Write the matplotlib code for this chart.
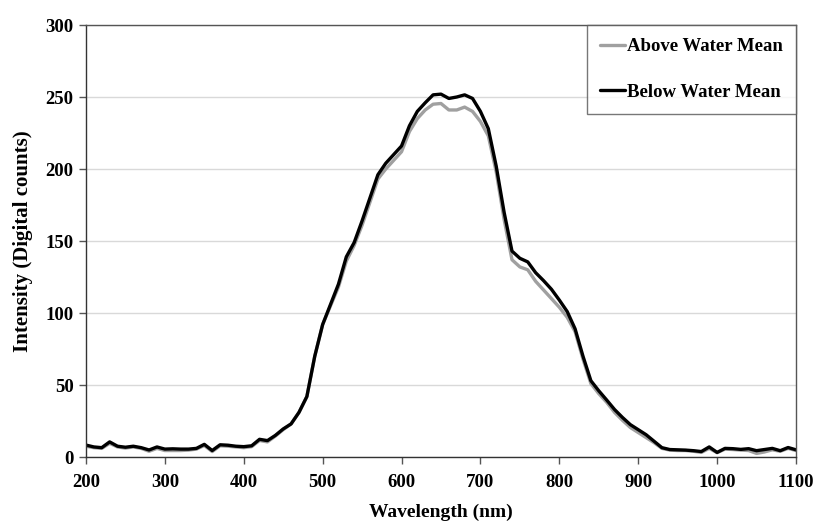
import matplotlib
matplotlib.use("Agg")
import matplotlib.pyplot as plt

wavelength = list(range(200, 1101, 10))

below_water = [8.3, 7, 6.5, 10.5, 7.5, 6.8, 7.5, 6.5, 4.9, 7,
               5.5, 5.7, 5.5, 5.5, 6, 8.8, 4.5, 8.5, 8.2, 7.5,
               7.2, 7.8, 12.3, 11.4, 15, 19.5, 23, 31, 42, 70,
               92, 106, 120, 139, 149, 164, 180, 196, 204, 210,
               216, 230, 240, 246, 251.5, 252, 249, 250, 251.5, 249,
               240, 228, 202, 170, 143, 138, 135.5, 128, 122.5, 116.5,
               109, 101, 89, 70, 53, 46, 39.6, 33, 27.5, 22.5,
               19, 15.5, 11, 6.5, 5.2, 5, 4.8, 4.4, 3.8, 7,
               3.2, 6, 5.8, 5.3, 5.8, 4.4, 5.2, 6, 4.4, 6.6, 5]

above_water = [7.5, 6.5, 6, 9.5, 7, 6.2, 7, 6, 4, 6,
               4.5, 4.5, 4.5, 4.8, 5.5, 8, 3.8, 7.8, 7.5, 7,
               6.5, 7.2, 11.5, 10.5, 14.5, 19, 23, 31, 42, 70,
               92, 105, 118, 136, 147, 161, 177, 193, 200, 206,
               212, 226, 235, 241, 245, 245.5, 241, 241, 243, 240,
               233, 223, 198, 165, 137, 132, 130, 122, 116, 110,
               104, 97, 87, 68, 51, 44, 38, 31, 25.5, 20.5,
               17, 13.5, 10, 6, 4.8, 4.5, 4.5, 4, 3.2, 6,
               3, 5.5, 5.2, 4.8, 4.5, 2.5, 3.5, 5, 4, 6, 4.5]

x_ticks = [200, 300, 400, 500, 600, 700, 800, 900, 1000, 1100]
y_ticks = [0, 50, 100, 150, 200, 250, 300]

plt.rcParams['font.family'] = ['Liberation Serif', 'DejaVu Serif']
plt.rcParams['font.weight'] = 'bold'

fig = plt.figure(figsize=(8.18, 5.21), dpi=100)
ax = fig.add_axes([0.1051, 0.1228, 0.8680, 0.8292])

ax.plot(wavelength, above_water, color='#a0a0a0', lw=2.4, label='Above Water Mean',
        solid_capstyle='round', solid_joinstyle='round')
ax.plot(wavelength, below_water, color='#000000', lw=2.4, label='Below Water Mean',
        solid_capstyle='round', solid_joinstyle='round')

ax.set_xlim(200, 1100)
ax.set_ylim(0, 300)
ax.set_xticks(x_ticks)
ax.set_yticks(y_ticks)
ax.tick_params(axis='both', labelsize=13.5, direction='out', length=5, width=1, color='#555555')
ax.tick_params(axis='x', pad=7)
ax.tick_params(axis='y', pad=4)
for lab in ax.get_xticklabels() + ax.get_yticklabels():
    lab.set_fontweight('bold')
ax.grid(axis='y', color='#d9d9d9', lw=1)
ax.set_axisbelow(True)
for s in ax.spines.values():
    s.set_color('#555555')
    s.set_linewidth(1)
ax.spines['left'].set_color('#333333')
ax.spines['bottom'].set_color('#333333')

ax.set_xlabel('Wavelength (nm)', fontsize=14, fontweight='bold', labelpad=9)
ax.set_ylabel('Intensity (Digital counts)', fontsize=15, fontweight='bold', labelpad=9)

leg = ax.legend(loc='upper right', bbox_to_anchor=(1.0, 1.0), frameon=True,
                fancybox=False, edgecolor='#555555', handlelength=1.35, handletextpad=0.1,
                labelspacing=1.5, borderpad=0.7, borderaxespad=0.0, prop={'weight': 'bold', 'size': 13.5})
leg.get_frame().set_linewidth(1)

fig.savefig('out.png', dpi=100)
